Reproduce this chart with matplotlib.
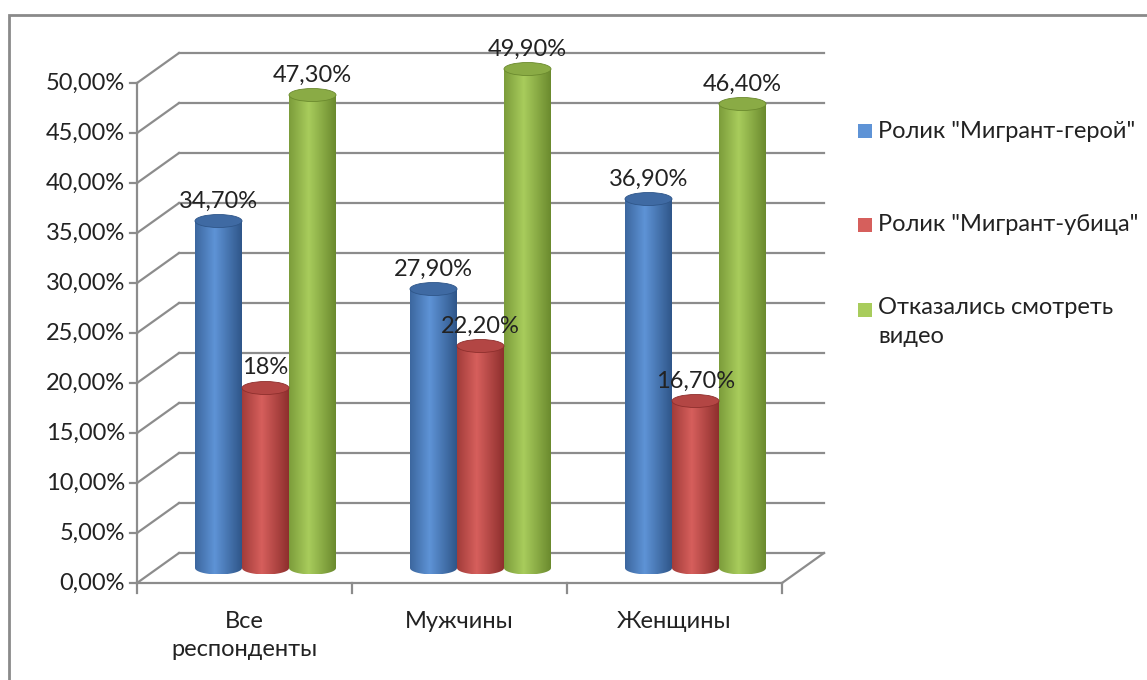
import numpy as np
import matplotlib.pyplot as plt
from matplotlib.patches import Rectangle, Ellipse, PathPatch
from matplotlib.path import Path
from matplotlib.colors import LinearSegmentedColormap

plt.rcParams['font.family'] = ['Lato', 'DejaVu Sans']

categories = ['Все\nреспонденты', 'Мужчины', 'Женщины']
series_names = ['Ролик "Мигрант-герой"', 'Ролик "Мигрант-убица"', 'Отказались смотреть\nвидео']
hero = [34.7, 27.9, 36.9]
killer = [18.0, 22.2, 16.7]
refused = [47.3, 49.9, 46.4]
labels = [['34,70%', '27,90%', '36,90%'],
          ['18%', '22,20%', '16,70%'],
          ['47,30%', '49,90%', '46,40%']]
yticks = [0, 5, 10, 15, 20, 25, 30, 35, 40, 45, 50]

# (dark edge, light centre, top cap)
palette = [('#2f5689', '#5e93d6', '#3f6aa3'),
           ('#8e2f2d', '#d65f5c', '#b34644'),
           ('#6b8a2e', '#a8cc5c', '#8aab45')]

W, H = 1147, 680
fig = plt.figure(figsize=(W / 100, H / 100), dpi=100)

# front plane of the 3d box, in pixels
x0, x1, y0, y50 = 137, 782, 583, 83
ppx = (x1 - x0) / 3.0          # pixels per category
ppy = (y0 - y50) / 50.0        # pixels per percent
ytop = 60                      # headroom so the tallest caps are not clipped
ax = fig.add_axes([x0 / W, 1 - y0 / H, (x1 - x0) / W, ytop * ppy / H])
ax.set_xlim(-0.5, 2.5)
ax.set_ylim(0, ytop)
ax.axis('off')

ddx = 42 / ppx                 # depth offset in data units
ddy = 30 / ppy
grid = '#8c8c8c'
lw = 1.6

# back wall grid lines + side wall diagonals
for t in yticks:
    ax.plot([-0.5 + ddx, 2.5 + ddx], [t + ddy, t + ddy], color=grid, lw=lw, clip_on=False)
    ax.plot([-0.5, -0.5 + ddx], [t, t + ddy], color=grid, lw=lw, clip_on=False)
    ax.plot([-0.5 - 7 / ppx, -0.5], [t, t], color=grid, lw=lw, clip_on=False)
    ax.text(-0.5 - 12 / ppx, t, f'{t:.2f}%'.replace('.', ','), ha='right', va='center',
            fontsize=17, color='#222222')
ax.plot([-0.5, -0.5], [0, 50], color=grid, lw=lw, clip_on=False)
# floor
ax.plot([-0.5, 2.5], [0, 0], color=grid, lw=lw, clip_on=False)
ax.plot([2.5, 2.5 + ddx], [0, ddy], color=grid, lw=lw, clip_on=False)
for k in range(4):
    ax.plot([k - 0.5, k - 0.5], [0, -10 / ppy], color=grid, lw=lw, clip_on=False)
for k, c in enumerate(categories):
    ax.text(k, -2.8, c, ha='center', va='top', fontsize=17, color='#222222',
            linespacing=1.4)

# cylinders
r = 23.5 / ppx
eh = 13 / ppy
grad = np.linspace(0, 1, 200)
shade = np.abs(grad - 0.42) / 0.58
for i, vals in enumerate([hero, killer, refused]):
    dark, light, cap = palette[i]
    cmap = LinearSegmentedColormap.from_list(f'c{i}', [light, dark])
    for j, v in enumerate(vals):
        cx = j + ddx / 2 + (i - 1) * 2 * r
        base = ddy / 2
        top = base + v
        # body outline: rectangle with rounded bottom
        th = np.linspace(np.pi, 2 * np.pi, 40)
        bx = cx + r * np.cos(th)
        by = base + eh / 2 * np.sin(th)
        verts = list(zip(bx, by)) + [(cx + r, top), (cx - r, top), (bx[0], by[0])]
        codes = [Path.MOVETO] + [Path.LINETO] * (len(verts) - 2) + [Path.CLOSEPOLY]
        body = PathPatch(Path(verts, codes), facecolor='none', edgecolor='none')
        ax.add_patch(body)
        im = ax.imshow(shade[None, :], cmap=cmap, vmin=0, vmax=1, aspect='auto',
                       extent=(cx - r, cx + r, base - eh / 2, top), zorder=3,
                       interpolation='bilinear')
        im.set_clip_path(body)
        body.set_zorder(3)
        ax.add_patch(Ellipse((cx, top), 2 * r, eh, facecolor=cap, edgecolor=dark,
                             lw=0.6, zorder=4))
        ax.text(cx, top + 2.0, labels[i][j], ha='center', va='center', fontsize=17,
                color='#222222', zorder=5)
ax.set_xlim(-0.5, 2.5)
ax.set_ylim(0, ytop)

# legend
leg_y = [131, 225, 310]
for i, name in enumerate(series_names):
    fig.patches.append(Rectangle((858 / W, 1 - (leg_y[i] + 7) / H), 14 / W, 14 / H,
                                 transform=fig.transFigure, facecolor=palette[i][1],
                                 edgecolor='none'))
    if '\n' in name:
        fig.text(878 / W, 1 - (leg_y[i] - 13) / H, name, ha='left', va='top', fontsize=17,
                 color='#222222', linespacing=1.45)
    else:
        fig.text(878 / W, 1 - leg_y[i] / H, name, ha='left', va='center', fontsize=17,
                 color='#222222')

# chart border
fig.patches.append(Rectangle((9 / W, -0.1), 1.2, 1 - 15 / H + 0.1, transform=fig.transFigure,
                             facecolor='none', edgecolor='#8a8a8a', lw=2))

fig.savefig('out.png', dpi=100)
